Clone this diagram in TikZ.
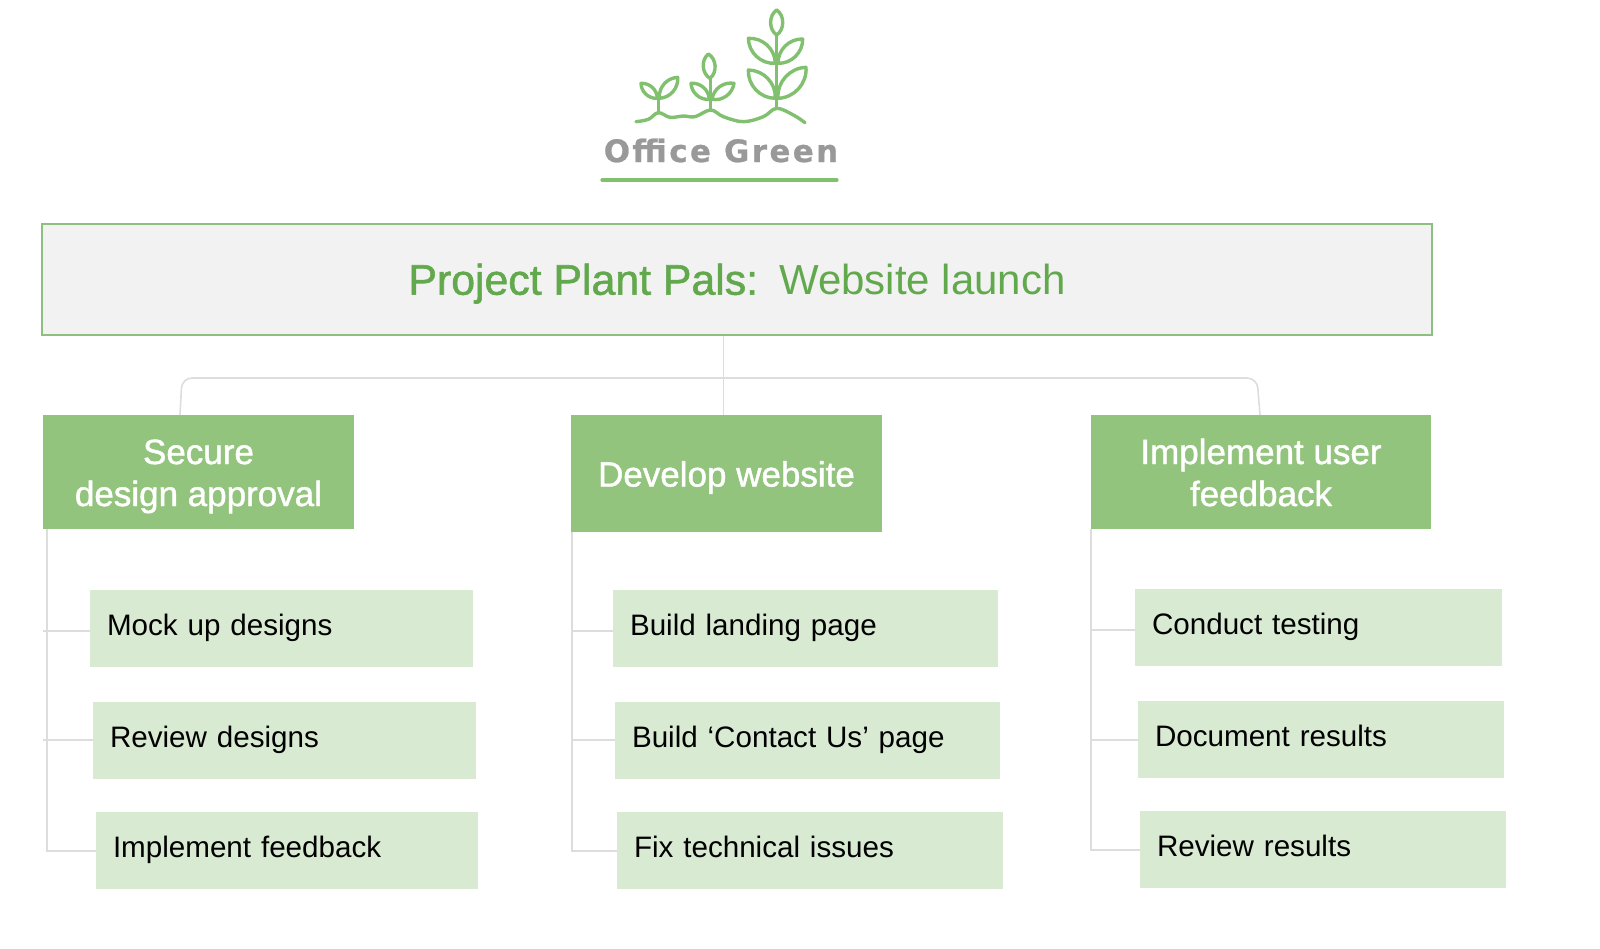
\documentclass[tikz,border=0pt]{standalone}
\usepackage{fontspec}
\setmainfont{Liberation Sans}
\newfontfamily\medfont[FakeBold=1.3]{Liberation Sans}
\newfontfamily\logofont[LetterSpace=8,FakeBold=0.8]{DejaVu Sans Bold}
\definecolor{gborder}{HTML}{8FBF7E}
\definecolor{gtitle}{HTML}{62A84C}
\definecolor{ghead}{HTML}{93C47D}
\definecolor{gsub}{HTML}{D9EAD3}
\definecolor{gline}{HTML}{DDDDDD}
\definecolor{glogo}{HTML}{80C06E}
\definecolor{glogotext}{HTML}{999999}
\definecolor{gbg}{HTML}{F2F2F2}
\tikzset{
  titlebox/.style={draw=gborder,line width=1pt,fill=gbg,minimum width=695pt,minimum height=55.5pt,inner sep=0pt,text=gtitle,font=\fontsize{21}{24}\selectfont},
  headbox/.style={fill=ghead,minimum width=#1pt,inner sep=0pt,align=center,text=white,font=\medfont\fontsize{17.5}{21}\selectfont},
  subbox/.style={fill=gsub,minimum width=#1pt,minimum height=38.5pt,inner sep=0pt,text width=#1pt-17pt,align=left,font=\fontsize{14.8}{18}\selectfont,text=black},
  conn/.style={draw=gline,line width=0.8pt},
  logoline/.style={draw=glogo,line width=1.7pt,line cap=round,line join=round},
}
\newcommand{\plantleaf}[3]{\draw[logoline] (#1) to[bend left=#3] (#2) to[bend left=#3] (#1);}
\newcommand{\subtext}[1]{\rule[-1.5pt]{0pt}{9.5pt}\smash{#1}}
\newcommand{\headtwo}[2]{\rule{0pt}{15pt}\smash{#1}\\\rule[-2pt]{0pt}{0pt}\smash{#2}}
\begin{document}
\begin{tikzpicture}[x=0.5pt,y=-0.5pt]
\useasboundingbox (0,0) rectangle (1600,948);
% logo
\begin{scope}[shift={(580,0)},x=0.16667pt,y=-0.16667pt]
  \draw[logoline] plot[smooth,tension=0.6] coordinates {(168,365) (205,358) (235,338) (270,352) (310,348) (345,350) (392,330) (430,350) (490,365) (550,350) (590,325) (640,345) (675,368)};
  \draw[logoline] (235,338) -- (235,298);
  \plantleaf{232,295}{183,250}{46}
  \plantleaf{238,295}{293,232}{46}
  \draw[logoline] (392,330) -- (392,235);
  \plantleaf{390,235}{385,162}{56}
  \plantleaf{388,298}{333,250}{46}
  \plantleaf{396,298}{462,250}{46}
  \draw[logoline] (590,325) -- (590,105);
  \plantleaf{590,105}{590,30}{56}
  \plantleaf{586,190}{505,115}{46}
  \plantleaf{594,190}{668,117}{46}
  \plantleaf{586,295}{505,210}{46}
  \plantleaf{594,295}{678,202}{46}
\end{scope}
\node[anchor=base,inner sep=0pt,text=glogotext,font=\logofont\fontsize{15.4}{18}\selectfont] (logotext) at (721,162) {Office Green};
\coordinate (ul) at (602,180);
\coordinate (ur) at (837,180);
\draw[draw=glogo,line width=1.6pt,line cap=round] (ul) -- (ur);
% title
\node[titlebox] (title) at (737,279.5) {\rule[-1.4pt]{0pt}{18pt}\smash{{\medfont\fontsize{21.4}{24}\selectfont Project Plant Pals:}\hspace{0.5em}Website launch}};
% headers
\node[headbox=155.5,minimum height=57pt] (sec) at (198.5,472) {\headtwo{Secure}{design approval}};
\node[headbox=155.5,minimum height=58.5pt] (dev) at (726.5,473.5) {\rule[-1.5pt]{0pt}{16pt}\smash{Develop website}};
\node[headbox=170,minimum height=57pt] (imp) at (1261,472) {\headtwo{Implement user}{feedback}};
% sub boxes
\node[subbox=191.5] (m1) at (281.5,628.5) {\subtext{Mock up designs}};
\node[subbox=191.5] (m2) at (284.5,740.5) {\subtext{Review designs}};
\node[subbox=191] (m3) at (287,850.5) {\subtext{Implement feedback}};
\node[subbox=192.5] (b1) at (805.5,628.5) {\subtext{Build landing page}};
\node[subbox=192.5] (b2) at (807.5,740.5) {\subtext{Build ‘Contact Us’ page}};
\node[subbox=193] (b3) at (810,850.5) {\subtext{Fix technical issues}};
\node[subbox=183.5] (c1) at (1318.5,627.5) {\subtext{Conduct testing}};
\node[subbox=183] (c2) at (1321,739.5) {\subtext{Document results}};
\node[subbox=183] (c3) at (1323,849.5) {\subtext{Review results}};
% top connectors
\coordinate (trunk) at (723.5,378);
\coordinate (lefttop) at (182,378);
\coordinate (leftlow) at (180,415);
\coordinate (righttop) at (1257,378);
\coordinate (rightlow) at (1260,415);
\draw[conn] (title.south -| trunk) -- (dev.north -| trunk);
\draw[conn,rounded corners=5pt] (leftlow) -- (lefttop) -- (righttop) -- (rightlow);
% side connectors
\coordinate (s1) at (47,529);  \coordinate (e1) at (47,851);
\coordinate (s2) at (572,532); \coordinate (e2) at (572,851);
\coordinate (s3) at (1091,529);\coordinate (e3) at (1091,850);
\coordinate (j11) at (43,631); \coordinate (j12) at (43,740);
\coordinate (j21) at (572,631);\coordinate (j22) at (572,740);
\coordinate (j31) at (1091,630);\coordinate (j32) at (1091,740);
\draw[conn] (s1) -- (e1) -- (e1 -| m3.west);
\draw[conn] (j11) -- (j11 -| m1.west);
\draw[conn] (j12) -- (j12 -| m2.west);
\draw[conn] (s2) -- (e2) -- (e2 -| b3.west);
\draw[conn] (j21) -- (j21 -| b1.west);
\draw[conn] (j22) -- (j22 -| b2.west);
\draw[conn] (s3) -- (e3) -- (e3 -| c3.west);
\draw[conn] (j31) -- (j31 -| c1.west);
\draw[conn] (j32) -- (j32 -| c2.west);
\end{tikzpicture}
\end{document}
